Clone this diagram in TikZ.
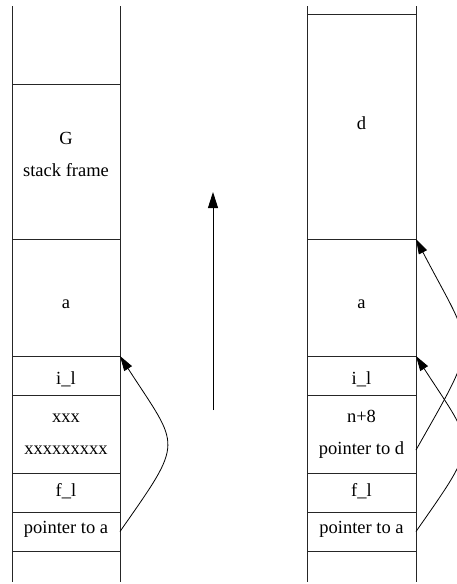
\documentclass[tikz,border=0pt]{standalone}
\usepackage{fontspec}
\setmainfont{Liberation Serif}
\usetikzlibrary{arrows.meta,calc}
\begin{document}
\begin{tikzpicture}[x=1pt,y=-1pt,
  cell/.style={draw=black!85, line width=0.9pt, inner sep=0pt, outer sep=0pt, anchor=north west},
  lcell/.style={cell, minimum width=108pt},
  rcell/.style={cell, minimum width=109pt},
  rule/.style={draw=black!85, line width=0.9pt},
  txt/.style={inner sep=0pt, align=center, font=\fontsize{18.5}{32}\selectfont},
  ptr/.style={draw=black, line width=0.8pt, -{Triangle[length=15pt,width=9pt]}},
  bigarrow/.style={draw=black, line width=0.9pt, -{Triangle[length=16pt,width=10pt]}}]
\useasboundingbox (0,0) rectangle (457,584);
\clip (0,0) rectangle (457,584);
% left stack
\draw[rule] (12,6) -- (12,582);
\draw[rule] (120,6) -- (120,582);
\node[lcell, minimum height=155pt] (lG)  at (12,84) {};
\node[lcell, minimum height=117pt] (la)  at (12,239) {};
\node[lcell, minimum height=39pt]  (lil) at (12,356) {};
\node[lcell, minimum height=78pt]  (lx)  at (12,395) {};
\node[lcell, minimum height=39pt]  (lfl) at (12,473) {};
\node[lcell, minimum height=39pt]  (lptr) at (12,512) {};
% right stack
\draw[rule] (307,6) -- (307,582);
\draw[rule] (416,6) -- (416,582);
\node[rcell, minimum height=225pt] (rd)  at (307,14) {};
\node[rcell, minimum height=117pt] (ra)  at (307,239) {};
\node[rcell, minimum height=39pt]  (ril) at (307,356) {};
\node[rcell, minimum height=78pt]  (rn)  at (307,395) {};
\node[rcell, minimum height=39pt]  (rfl) at (307,473) {};
\node[rcell, minimum height=39pt]  (rptr) at (307,512) {};
% texts left
\node[txt] (tG) at (66,154.5) {G\\stack frame};
\node[txt, anchor=base] (tla) at (66,308) {a};
\node[txt, anchor=base] (tlil) at (66,384) {i\_l};
\node[txt] (tlx) at (lx.center) {xxx\\xxxxxxxxx};
\node[txt, anchor=base] (tlfl) at (66,496) {f\_l};
\node[txt, anchor=base] (tlptr) at (66,533) {pointer to a};
% texts right
\node[txt, anchor=base] (td) at (361.5,129) {d};
\node[txt, anchor=base] (tra) at (361.5,308) {a};
\node[txt, anchor=base] (tril) at (361.5,384) {i\_l};
\node[txt] (trn) at (rn.center) {n+8\\pointer to d};
\node[txt, anchor=base] (trfl) at (361.5,496) {f\_l};
\node[txt, anchor=base] (trptr) at (361.5,533) {pointer to a};
% middle arrow
\coordinate (mS) at (213,410);
\coordinate (mE) at (213,192);
\draw[bigarrow] (mS) -- (mE);
% pointers
\draw[ptr] (lptr.east) .. controls +(65,-93) and +(60,93) .. (lil.north east);
\draw[ptr] (rptr.east) .. controls +(65,-93) and +(60,93) .. (ril.north east);
\coordinate (rdS) at ($(rn.east)+(0,16)$);
\draw[ptr] (rdS) .. controls +(65,-115) and +(60,115) .. (ra.north east);
\end{tikzpicture}
\end{document}
